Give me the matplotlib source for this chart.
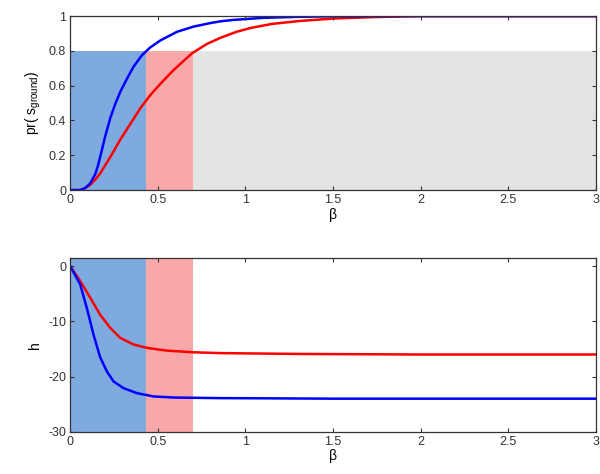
import matplotlib
matplotlib.use("Agg")
import matplotlib.pyplot as plt

plt.rcParams["font.family"] = ["Liberation Sans", "DejaVu Sans"]
plt.rcParams["mathtext.fontset"] = "custom"
plt.rcParams["mathtext.rm"] = "Liberation Sans"
plt.rcParams["mathtext.it"] = "Liberation Sans"

# beta values
beta_top_blue = [0, 0.057, 0.086, 0.114, 0.143, 0.157, 0.171, 0.20, 0.229, 0.257, 0.286, 0.324, 0.362, 0.41,
                 0.457, 0.514, 0.61, 0.705, 0.80, 0.857, 0.93, 1.1, 1.3, 1.5, 2.0, 3.0]
pr_blue = [0, 0.0, 0.012, 0.038, 0.092, 0.135, 0.19, 0.31, 0.415, 0.495, 0.565, 0.64, 0.71, 0.776,
           0.82, 0.86, 0.91, 0.94, 0.96, 0.97, 0.978, 0.99, 0.996, 0.999, 1.0, 1.0]

beta_top_red = [0, 0.057, 0.086, 0.114, 0.143, 0.171, 0.229, 0.286, 0.343, 0.40, 0.457, 0.514, 0.59, 0.695,
                0.78, 0.857, 0.95, 1.03, 1.15, 1.31, 1.5, 1.75, 2.0, 3.0]
pr_red = [0, 0.0, 0.012, 0.03, 0.06, 0.096, 0.19, 0.29, 0.38, 0.47, 0.546, 0.61, 0.69, 0.786,
          0.84, 0.875, 0.91, 0.932, 0.955, 0.972, 0.986, 0.995, 1.0, 1.0]

beta_bot_blue = [0, 0.057, 0.095, 0.133, 0.171, 0.21, 0.248, 0.305, 0.381, 0.476, 0.6, 0.857, 1.2, 1.5, 3.0]
h_blue = [0, -3.3, -7.6, -12.4, -16.5, -19.1, -20.9, -22.1, -23.0, -23.6, -23.8, -23.9, -23.95, -24.0, -24.0]

beta_bot_red = [0, 0.057, 0.114, 0.171, 0.229, 0.286, 0.362, 0.438, 0.552, 0.705, 0.857, 1.31, 2.0, 3.0]
h_red = [0, -2.7, -5.7, -8.8, -11.2, -13.0, -14.2, -14.8, -15.3, -15.6, -15.75, -15.9, -16.0, -16.0]

# shaded regions (beta ranges)
blue_region = [0, 0.43]
red_region = [0.43, 0.70]
gray_region = [0.70, 3.0]
region_top = 0.8

fig = plt.figure(figsize=(6, 4.74), dpi=100)
ax1 = fig.add_axes([0.117, 0.599, 0.876, 0.367])
ax2 = fig.add_axes([0.117, 0.089, 0.876, 0.367])

c_blue_fill = "#7eaadf"
c_red_fill = "#f8a8a8"
c_gray_fill = "#e4e4e4"

# top panel
ax1.fill_between(blue_region, 0, region_top, color=c_blue_fill, lw=0)
ax1.fill_between(red_region, 0, region_top, color=c_red_fill, lw=0)
ax1.fill_between(gray_region, 0, region_top, color=c_gray_fill, lw=0)
ax1.plot(beta_top_red, pr_red, color="#ff0000", lw=1.8, solid_joinstyle="round")
ax1.plot(beta_top_blue, pr_blue, color="#0000ff", lw=1.8, solid_joinstyle="round")
ax1.set_xlim(0, 3)
ax1.set_ylim(0, 1)
ax1.set_yticks([0, 0.2, 0.4, 0.6, 0.8, 1])
ax1.set_yticklabels(["0", "0.2", "0.4", "0.6", "0.8", "1"])
ax1.set_ylabel(r"pr( s$_{\mathregular{ground}}$)", fontsize=10, labelpad=4)
ax1.set_xlabel(r"β", fontsize=10, labelpad=1)

# bottom panel
ax2.axvspan(blue_region[0], blue_region[1], color=c_blue_fill, lw=0)
ax2.axvspan(red_region[0], red_region[1], color=c_red_fill, lw=0)
ax2.plot(beta_bot_red, h_red, color="#ff0000", lw=1.8, solid_joinstyle="round")
ax2.plot(beta_bot_blue, h_blue, color="#0000ff", lw=1.8, solid_joinstyle="round")
ax2.set_xlim(0, 3)
ax2.set_ylim(-30, 1.5)
ax2.set_yticks([-30, -20, -10, 0])
ax2.set_yticklabels(["-30", "-20", "-10", "0"])
ax2.set_ylabel("h", fontsize=10, labelpad=4)
ax2.set_xlabel(r"β", fontsize=10, labelpad=1)

for ax in (ax1, ax2):
    ax.set_xticks([0, 0.5, 1, 1.5, 2, 2.5, 3])
    ax.set_xticklabels(["0", "0.5", "1", "1.5", "2", "2.5", "3"])
    ax.tick_params(direction="in", top=True, right=True, length=3,
                   labelsize=9, colors="#333333", pad=3)
    for s in ax.spines.values():
        s.set_color("#333333")
        s.set_linewidth(0.9)
    ax.set_axisbelow(False)

fig.savefig("out.png", dpi=100)
